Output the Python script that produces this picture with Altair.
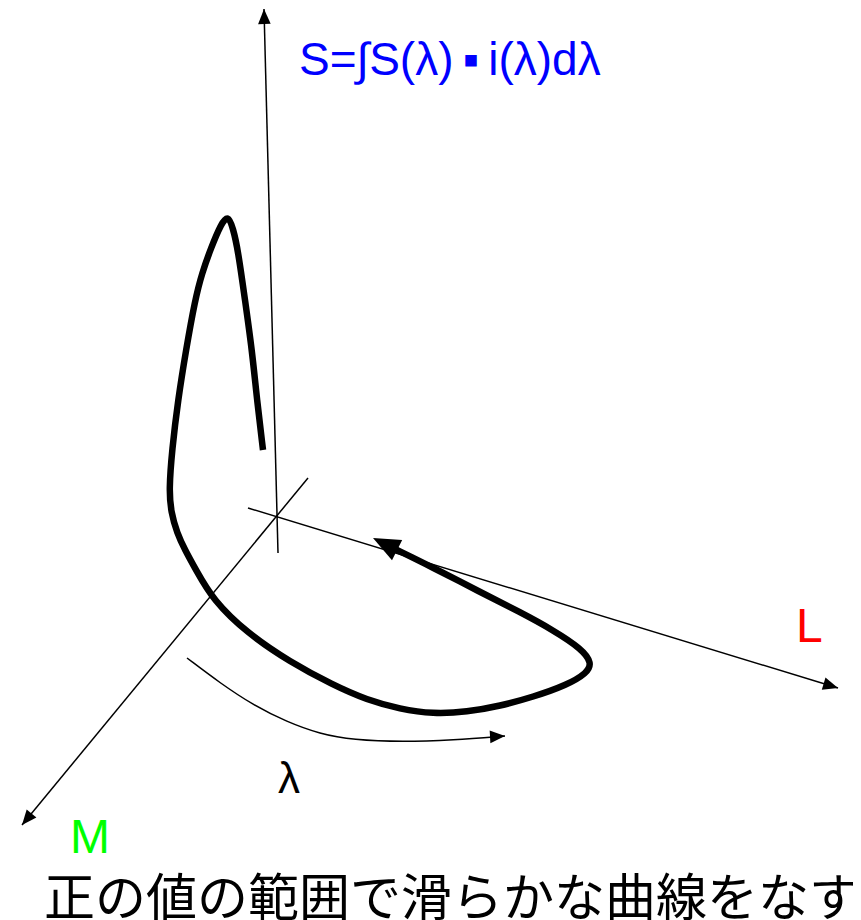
import math
import altair as alt
import pandas as pd

# ---- data (page-pixel coordinates) ----
s_axis_x = [278, 264]
s_axis_y = [553, 9]
l_axis_x = [248, 838]
l_axis_y = [508, 688]
m_axis_x = [308, 22]
m_axis_y = [478, 825]

lam_x = [187, 220, 253, 287, 320, 353, 403, 453, 505]
lam_y = [658, 683, 705, 722, 734, 740, 742, 740, 736]

curve_x = [263, 257, 252, 245, 238, 233, 228, 221, 211, 202, 195, 186, 178, 172, 169,
           171, 177, 185, 196, 213, 247, 290, 333, 367, 400, 433, 467, 500, 533, 567,
           587, 592, 582, 553, 520, 480, 430, 395]
curve_y = [450, 400, 350, 300, 250, 228, 215, 224, 248, 273, 300, 350, 400, 450, 490,
           512, 533, 550, 570, 600, 633, 662, 685, 700, 709, 714, 712, 706, 697, 685,
           673, 663, 649, 630, 612, 592, 566, 549]
curve_tip = (373, 538)

label_text = ["S=∫S(λ)\u2009▪\u2009i(λ)dλ", "L", "M", "λ", "正の値の範囲で滑らかな曲線をなす"]
label_x = [299, 796, 70, 278, 44]
label_y = [75, 642, 853, 793, 916]

W, H = 845, 904
xs = alt.Scale(domain=[8, 8 + W], nice=False, zero=False)
ys = alt.Scale(domain=[8 + H, 8], nice=False, zero=False)


def series(xv, yv):
    return pd.DataFrame({"x": xv, "y": yv, "i": list(range(len(xv)))})


def line(xv, yv, width, interp="linear"):
    return alt.Chart(series(xv, yv)).mark_line(
        color="black", strokeWidth=width, interpolate=interp, strokeCap="butt", clip=False
    ).encode(
        x=alt.X("x:Q", scale=xs, axis=None),
        y=alt.Y("y:Q", scale=ys, axis=None),
        order="i:Q",
    )


ARROW = "M0,0 L-0.42,1 L0.42,1 Z"


def head(tip, prev, length):
    dx, dy = tip[0] - prev[0], tip[1] - prev[1]
    ang = math.degrees(math.atan2(dx, -dy)) % 360
    return alt.Chart(pd.DataFrame({"x": [tip[0]], "y": [tip[1]]})).mark_point(
        shape=ARROW, filled=True, color="black", opacity=1, size=(2 * length) ** 2,
        angle=ang, strokeWidth=0, clip=False
    ).encode(x=alt.X("x:Q", scale=xs, axis=None), y=alt.Y("y:Q", scale=ys, axis=None))


def label(k, color, size, font):
    df = pd.DataFrame({"x": [label_x[k]], "y": [label_y[k]], "t": [label_text[k]]})
    return alt.Chart(df).mark_text(
        align="left", baseline="alphabetic", color=color, fontSize=size, font=font, clip=False
    ).encode(x=alt.X("x:Q", scale=xs, axis=None), y=alt.Y("y:Q", scale=ys, axis=None), text="t:N")


layers = [
    line(s_axis_x, s_axis_y, 1.5),
    line(l_axis_x, l_axis_y, 1.5),
    line(m_axis_x, m_axis_y, 1.5),
    line(lam_x, lam_y, 1.5, "basis"),
    line(curve_x, curve_y, 6.5, "basis"),
    head((s_axis_x[1], s_axis_y[1]), (s_axis_x[0], s_axis_y[0]), 15),
    head((l_axis_x[1], l_axis_y[1]), (l_axis_x[0], l_axis_y[0]), 15),
    head((m_axis_x[1], m_axis_y[1]), (m_axis_x[0], m_axis_y[0]), 15),
    head((lam_x[-1], lam_y[-1]), (lam_x[-3], lam_y[-3]), 15),
    head(curve_tip, (curve_x[-3], curve_y[-3]), 27),
    label(0, "#0000FF", 46, "Liberation Sans"),
    label(1, "#FF0000", 48, "Liberation Sans"),
    label(2, "#00FF00", 48, "Liberation Sans"),
    label(3, "black", 44, "Liberation Sans"),
    label(4, "black", 51, "Noto Sans CJK JP"),
]

chart = alt.layer(*layers).properties(
    width=W, height=H,
    padding={"left": 0, "top": 0, "right": 0, "bottom": 8},
    autosize=alt.AutoSizeParams(type="none"),
).configure_view(stroke=None)

chart.save("out.html", embed_options={"renderer": "svg", "actions": False})
